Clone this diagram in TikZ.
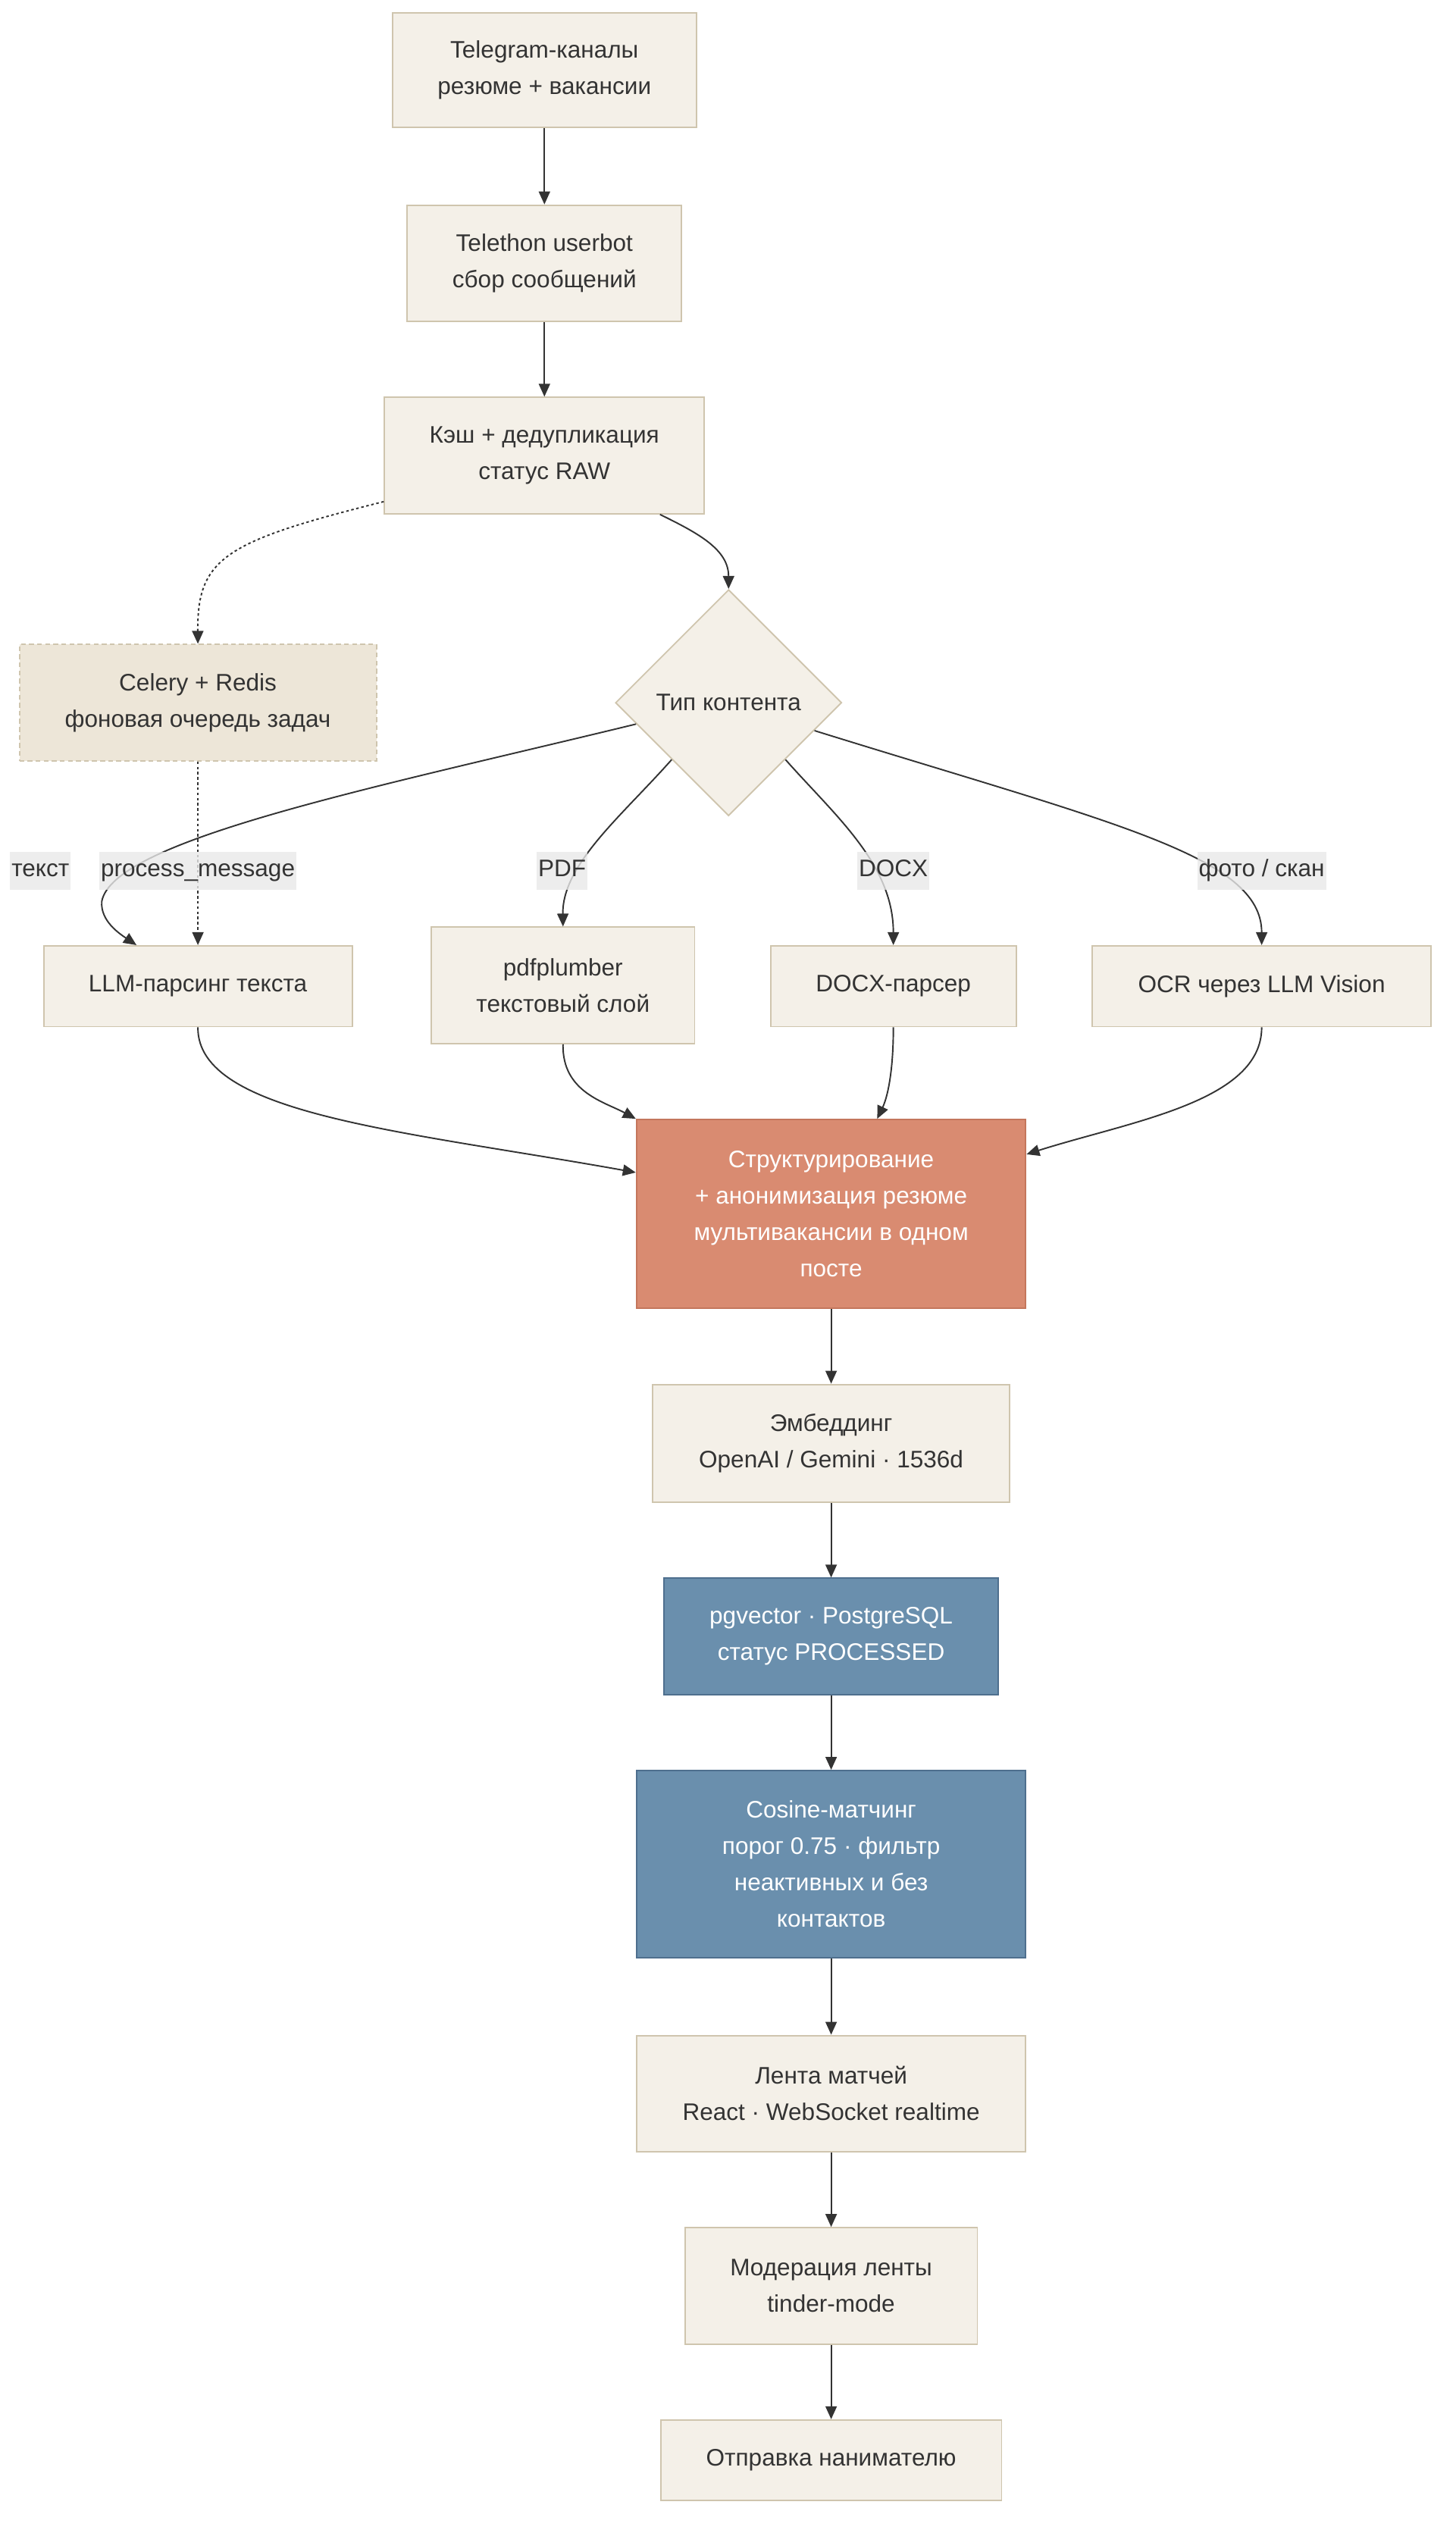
\documentclass[tikz,border=0pt]{standalone}
\usepackage{fontspec}
\setmainfont{Liberation Sans}
\usetikzlibrary{shapes.geometric,arrows.meta,calc}
\definecolor{boxfill}{HTML}{F4F0E8}
\definecolor{boxline}{HTML}{CFC5AE}
\definecolor{celfill}{HTML}{EDE6D8}
\definecolor{orfill}{HTML}{D98B71}
\definecolor{orline}{HTML}{C4765C}
\definecolor{blfill}{HTML}{6A8FAD}
\definecolor{blline}{HTML}{4E6F8E}
\definecolor{txt}{HTML}{333333}
\definecolor{labbg}{HTML}{E8E8E8}
\definecolor{edgec}{HTML}{333333}
\tikzset{
  base/.style={rectangle, inner sep=0pt, align=center, line width=0.9pt,
    font=\fontsize{14.8}{22.5}\selectfont},
  box/.style={base, draw=boxline, fill=boxfill, text=txt},
  celbox/.style={base, draw=boxline, fill=celfill, text=txt, dash pattern=on 3pt off 2pt},
  orbox/.style={base, draw=orline, fill=orfill, text=white},
  blbox/.style={base, draw=blline, fill=blfill, text=white},
  decision/.style={diamond, draw=boxline, fill=boxfill, text=txt, line width=0.9pt,
    inner sep=0pt, font=\fontsize{14.8}{22.5}\selectfont},
  lab/.style={fill=labbg, fill opacity=0.8, text opacity=1, text=txt, inner xsep=1pt,
    inner ysep=4.5pt, text height=11pt, text depth=3.5pt,
    font=\fontsize{14.8}{22.5}\selectfont},
  edge/.style={draw=edgec, line width=0.9pt, -{Triangle[length=8pt,width=7pt]}},
  dotedge/.style={edge, dash pattern=on 1.6pt off 1.6pt},
}
\begin{document}
\begin{tikzpicture}[x=1pt,y=-1pt]
\useasboundingbox (0,0) rectangle (901,1568);

\node[box, minimum width=188pt, minimum height=71pt] (tg) at (337,43.5) {Telegram-каналы\\резюме + вакансии};
\node[box, minimum width=170pt, minimum height=72pt] (tl) at (337,163) {Telethon userbot\\сбор сообщений};
\node[box, minimum width=198pt, minimum height=72pt] (kc) at (337,282) {Кэш + дедупликация\\статус RAW};
\node[celbox, minimum width=221pt, minimum height=72pt] (cel) at (122.5,435) {Celery + Redis\\фоновая очередь задач};
\node[decision, minimum width=140pt, minimum height=140pt] (dia) at (451,435) {Тип контента};

\node[box, minimum width=191pt, minimum height=50pt] (llm) at (122.5,610.5) {LLM-парсинг текста};
\node[box, minimum width=163pt, minimum height=72pt] (pdf) at (348.5,610) {pdfplumber\\текстовый слой};
\node[box, minimum width=152pt, minimum height=50pt] (docx) at (553,610.5) {DOCX-парсер};
\node[box, minimum width=210pt, minimum height=50pt] (ocr) at (781,610.5) {OCR через LLM Vision};

\node[orbox, minimum width=241pt, minimum height=117pt] (st) at (514.5,751.5) {Структурирование\\+ анонимизация резюме\\мультивакансии в одном\\посте};
\node[box, minimum width=221pt, minimum height=73pt] (emb) at (514.5,893.5) {Эмбеддинг\\OpenAI / Gemini · 1536d};
\node[blbox, minimum width=207pt, minimum height=72pt] (pg) at (514.5,1013) {pgvector · PostgreSQL\\статус PROCESSED};
\node[blbox, minimum width=241pt, minimum height=116pt] (cos) at (514.5,1154) {Cosine-матчинг\\порог 0.75 · фильтр\\неактивных и без\\контактов};
\node[box, minimum width=241pt, minimum height=72pt] (lenta) at (514.5,1296) {Лента матчей\\React · WebSocket realtime};
\node[box, minimum width=181pt, minimum height=72pt] (mod) at (514.5,1415) {Модерация ленты\\tinder-mode};
\node[box, minimum width=211pt, minimum height=50pt] (otp) at (514.5,1523) {Отправка нанимателю};

% straight edges
\draw[edge] (tg) -- (tl);
\draw[edge] (tl) -- (kc);
\draw[edge] (st) -- (emb);
\draw[edge] (emb) -- (pg);
\draw[edge] (pg) -- (cos);
\draw[edge] (cos) -- (lenta);
\draw[edge] (lenta) -- (mod);
\draw[edge] (mod) -- (otp);

% cache -> celery (dotted), cache -> decision
\draw[dotedge] (kc.196) .. controls (140,335) and (122,345) .. (cel.north);
\draw[edge] (kc.-27.6) .. controls (432,330) and (451,340) .. (dia.north);

% celery -> llm
\draw[dotedge] (cel.south) -- (llm.north);

% decision branches
\draw[edge] (dia.193.6) .. controls (230,488) and (70,520) .. (63,558)
  .. controls (62,570) and (74,578) .. ($(llm.north)+(-38,0)$);
\draw[edge] (dia.225) .. controls (385,505) and (348,535) .. (pdf.north);
\draw[edge] (dia.-45) .. controls (517,505) and (553,535) .. (docx.north);
\draw[edge] (dia.-18.4) .. controls (690,510) and (781,530) .. (ocr.north);

% into structuring
\draw[edge] (llm.south) .. controls (122,690) and (250,700) .. (st.168.5);
\draw[edge] (pdf.south) .. controls (348,676) and (374,682) .. (st.north west);
\draw[edge] (docx.south) .. controls (553,665) and (549,680) .. ($(st.north)+(28.5,0)$);
\draw[edge] (ocr.south) .. controls (781,682) and (700,694) .. (st.17.7);

% labels
\node[lab] (lt) at (25,539) {текст};
\node[lab] (lpm) at (122.5,539) {process\_message};
\node[lab] (lpdf) at (348,539) {PDF};
\node[lab] (ldocx) at (553,539) {DOCX};
\node[lab] (lfoto) at (781,539) {фото / скан};
\end{tikzpicture}
\end{document}
